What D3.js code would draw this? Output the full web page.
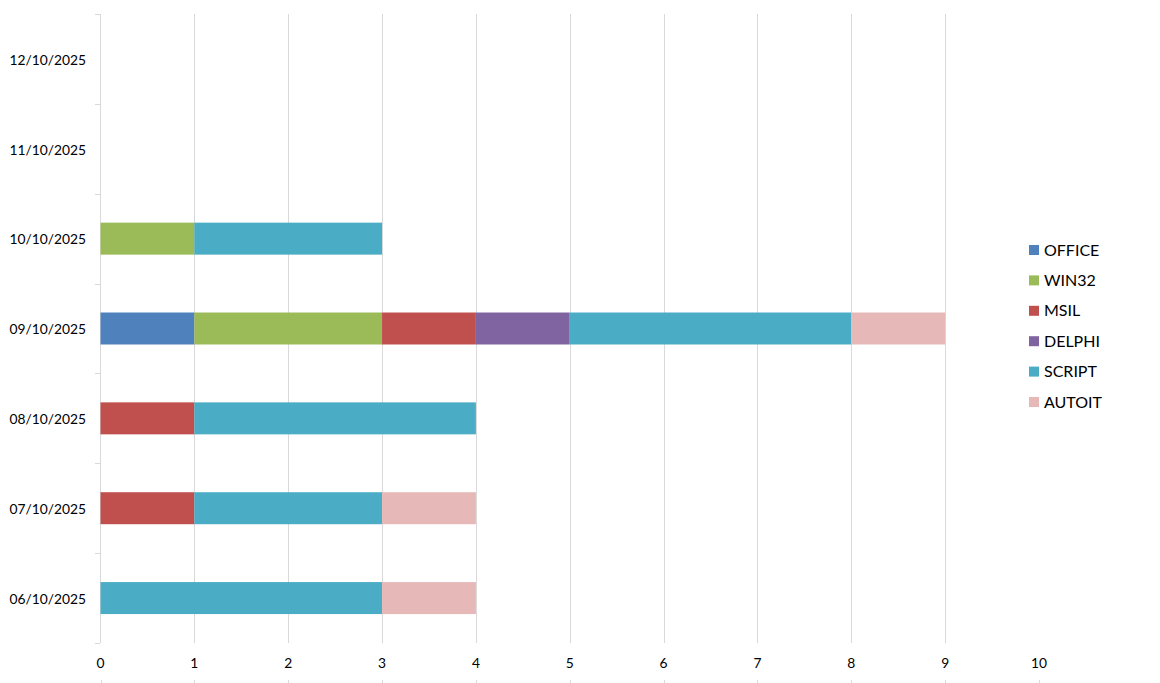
<!DOCTYPE html>
<html>
<head>
<meta charset="utf-8">
<script src="https://cdn.jsdelivr.net/npm/d3@7"></script>
<style>
	body { margin: 0; background: #fff; }
	text { font-family: Lato, "Open Sans", sans-serif; fill: #000; }
</style>
</head>
<body>
<svg id="chart" width="1160" height="683"></svg>
<script>
var dates = ['06/10/2025', '07/10/2025', '08/10/2025', '09/10/2025', '10/10/2025', '11/10/2025', '12/10/2025'];
var series = ['OFFICE', 'WIN32', 'MSIL', 'DELPHI', 'SCRIPT', 'AUTOIT'];
var colors = ['#4f81bd', '#9bbb59', '#c0504d', '#8064a2', '#4bacc6', '#e6b9b8'];
var office = [0, 0, 0, 1, 0, 0, 0];
var win32 = [0, 0, 0, 2, 1, 0, 0];
var msil = [0, 1, 1, 1, 0, 0, 0];
var delphi = [0, 0, 0, 1, 0, 0, 0];
var script = [3, 2, 3, 3, 2, 0, 0];
var autoit = [1, 1, 0, 1, 0, 0, 0];
var xTicks = [0, 1, 2, 3, 4, 5, 6, 7, 8, 9, 10];

var values = [office, win32, msil, delphi, script, autoit];
var rows = dates.map(function(d, i){
	var r = { date: d };
	series.forEach(function(s, j){ r[s] = values[j][i]; });
	return r;
});

var svg = d3.select('#chart');
var x = d3.scaleLinear().domain([0, 10]).range([100.5, 1039]);
var y = d3.scaleBand().domain(dates.slice().reverse()).range([14, 643]).paddingInner(0.644).paddingOuter(0.322);
var yb = d3.scaleBand().domain(dates.slice().reverse()).range([14, 643]);
var color = d3.scaleOrdinal().domain(series).range(colors);

// gridlines (no line at 10)
svg.append('g')
	.selectAll('line')
	.data(xTicks.filter(function(t){ return t > 0 && t < 10; }))
	.enter()
	.append('line')
	.attr('x1', function(d){ return Math.round(x(d)) + 0.5; })
	.attr('x2', function(d){ return Math.round(x(d)) + 0.5; })
	.attr('y1', 14)
	.attr('y2', 643)
	.attr('stroke', '#d9d9d9')
	.attr('stroke-width', 1);

// left axis line with band ticks
var yAxis = svg.append('g');
yAxis.append('line')
	.attr('x1', 100.5).attr('x2', 100.5)
	.attr('y1', 14).attr('y2', 643)
	.attr('stroke', '#d9d9d9');
var bounds = yb.domain().map(function(d){ return yb(d); }).concat([643]);
yAxis.selectAll('.ytick')
	.data(bounds)
	.enter()
	.append('line')
	.attr('class', 'ytick')
	.attr('x1', 95).attr('x2', 100)
	.attr('y1', function(d){ return Math.round(d) + 0.5; })
	.attr('y2', function(d){ return Math.round(d) + 0.5; })
	.attr('stroke', '#d9d9d9');
yAxis.selectAll('.ylabel')
	.data(dates)
	.enter()
	.append('text')
	.attr('class', 'ylabel')
	.attr('x', 86)
	.attr('y', function(d){ return yb(d) + yb.bandwidth() / 2 + 1; })
	.attr('dy', '0.35em')
	.attr('text-anchor', 'end')
	.style('font-size', '13.8px')
	.text(function(d){ return d; });

// stacked bars
var stacked = d3.stack().keys(series)(rows);
svg.append('g')
	.selectAll('g')
	.data(stacked)
	.enter()
	.append('g')
	.attr('fill', function(d){ return color(d.key); })
	.selectAll('rect')
	.data(function(d){ return d; })
	.enter()
	.append('rect')
	.attr('x', function(d){ return x(d[0]); })
	.attr('width', function(d){ return x(d[1]) - x(d[0]); })
	.attr('y', function(d){ return y(d.data.date); })
	.attr('height', y.bandwidth());

// x labels
var xAxis = svg.append('g');
xAxis.selectAll('text')
	.data(xTicks)
	.enter()
	.append('text')
	.attr('x', function(d){ return x(d); })
	.attr('y', 668)
	.attr('text-anchor', 'middle')
	.style('font-size', '13.8px')
	.text(function(d){ return d; });
xAxis.selectAll('line')
	.data(xTicks)
	.enter()
	.append('line')
	.attr('x1', function(d){ return Math.round(x(d)) + 0.5; })
	.attr('x2', function(d){ return Math.round(x(d)) + 0.5; })
	.attr('y1', 680).attr('y2', 683)
	.attr('stroke', '#d9d9d9');

// legend
var legend = svg.append('g')
	.selectAll('g')
	.data(series)
	.enter()
	.append('g')
	.attr('transform', function(d, i){ return 'translate(1029,' + (250 + i * 30.4) + ')'; });
legend.append('rect')
	.attr('x', 0).attr('y', -5)
	.attr('width', 10).attr('height', 10)
	.attr('fill', function(d){ return color(d); });
legend.append('text')
	.attr('x', 15)
	.attr('dy', '0.35em')
	.style('font-size', '16px')
	.text(function(d){ return d; });
</script>
</body>
</html>
